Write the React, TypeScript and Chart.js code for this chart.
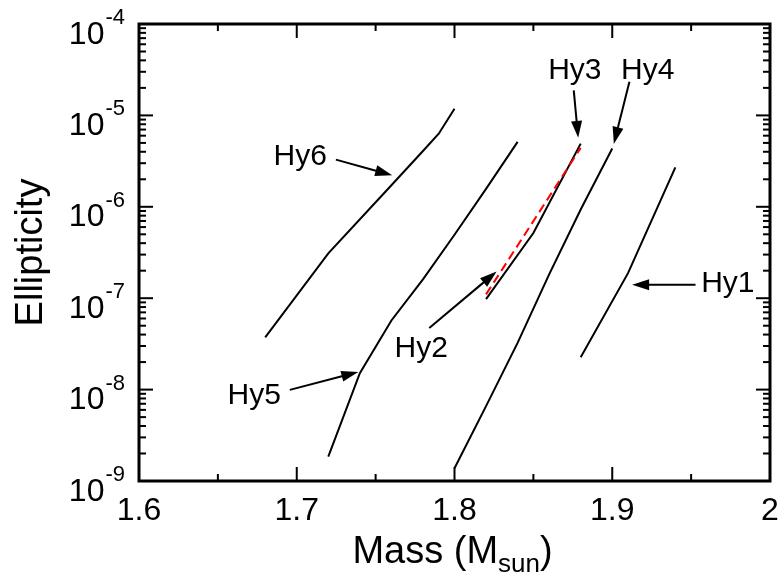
import React, { useEffect, useRef } from 'react';
import { Chart, registerables } from 'chart.js';

Chart.register(...registerables);

const FONT = '"Liberation Sans", Arial, Helvetica, sans-serif';

// ---- data ----
const hy1Mass = [1.88, 1.91, 1.94];
const hy1Ell = [2.26e-8, 1.88e-7, 2.7e-6];

const hy2Mass = [1.82, 1.88];
const hy2Ell = [1.1e-7, 4.41e-6];

const hy3Mass = [1.82, 1.85, 1.88];
const hy3Ell = [9.77e-8, 5.16e-7, 4.91e-6];

const hy4Mass = [1.8, 1.82, 1.84, 1.86, 1.88, 1.9];
const hy4Ell = [1.38e-9, 6.6e-9, 3.24e-8, 1.82e-7, 9.33e-7, 4.34e-6];

const hy5Mass = [1.72, 1.74, 1.76, 1.78, 1.8, 1.82, 1.84];
const hy5Ell = [1.85e-9, 1.51e-8, 5.7e-8, 1.61e-7, 4.94e-7, 1.57e-6, 5.13e-6];

const hy6Mass = [1.68, 1.72, 1.76, 1.78, 1.79, 1.8];
const hy6Ell = [3.72e-8, 3.09e-7, 1.72e-6, 4.08e-6, 6.31e-6, 1.18e-5];

// ---- axis ticks ----
const xMin = 1.6;
const xMax = 2.0;
const yMin = 1e-9;
const yMax = 1e-4;
const xTickValues = [1.6, 1.7, 1.8, 1.9, 2.0];
const xTickLabels = ['1.6', '1.7', '1.8', '1.9', '2'];
const xMinorValues = [1.65, 1.75, 1.85, 1.95];
const yDecadeExponents = [-9, -8, -7, -6, -5, -4];
const yMinorMantissas = [2, 3, 4, 5, 6, 7, 8, 9];

// ---- annotations (labels + arrows), in data coordinates ----
const annLabels = ['Hy1', 'Hy2', 'Hy3', 'Hy4', 'Hy5', 'Hy6'];
const annTextX = [1.9733, 1.7789, 1.8763, 1.9225, 1.673, 1.7022];
const annTextY = [1.17e-7, 2.3e-8, 2.51e-5, 2.53e-5, 6.97e-9, 2.89e-6];
const annTailX = [1.9528, 1.784, 1.8756, 1.9109, 1.6956, 1.7248];
const annTailY = [1.4e-7, 4.71e-8, 1.88e-5, 2.33e-5, 9.93e-9, 3.28e-6];
const annHeadX = [1.9126, 1.8267, 1.8784, 1.901, 1.739, 1.7605];
const annHeadY = [1.4e-7, 1.96e-7, 5.68e-6, 4.88e-6, 1.56e-8, 2.22e-6];

function series(xs: number[], ys: number[]) {
  return xs.map((x, i) => ({ x, y: ys[i] }));
}

const framePlugin = {
  id: 'framePlugin',
  afterDatasetsDraw(chart: any) {
    const ctx = chart.ctx as CanvasRenderingContext2D;
    const xs = chart.scales.x;
    const ys = chart.scales.y;
    const { left, right, top, bottom } = chart.chartArea;
    ctx.save();
    ctx.strokeStyle = '#000';
    ctx.fillStyle = '#000';

    // frame
    ctx.lineWidth = 3;
    ctx.strokeRect(left, top, right - left, bottom - top);

    // ticks
    ctx.lineWidth = 2;
    const major = 14;
    const minor = 7;
    const line = (x1: number, y1: number, x2: number, y2: number) => {
      ctx.beginPath();
      ctx.moveTo(x1, y1);
      ctx.lineTo(x2, y2);
      ctx.stroke();
    };
    xTickValues.forEach((v) => {
      const px = xs.getPixelForValue(v);
      line(px, bottom, px, bottom - major);
      line(px, top, px, top + major);
    });
    xMinorValues.forEach((v) => {
      const px = xs.getPixelForValue(v);
      line(px, bottom, px, bottom - minor);
      line(px, top, px, top + minor);
    });
    yDecadeExponents.forEach((e) => {
      const py = ys.getPixelForValue(Math.pow(10, e));
      line(left, py, left + major, py);
      line(right, py, right - major, py);
      if (e < -4) {
        yMinorMantissas.forEach((m) => {
          const pm = ys.getPixelForValue(m * Math.pow(10, e));
          line(left, pm, left + minor, pm);
          line(right, pm, right - minor, pm);
        });
      }
    });

    // x tick labels
    ctx.font = `32px ${FONT}`;
    ctx.textAlign = 'center';
    ctx.textBaseline = 'alphabetic';
    xTickValues.forEach((v, i) => {
      const px = xs.getPixelForValue(v);
      ctx.fillText(xTickLabels[i], px, bottom + 39);
    });

    // y tick labels: 10^e
    yDecadeExponents.forEach((e) => {
      const py = ys.getPixelForValue(Math.pow(10, e));
      const sup = String(e);
      ctx.font = `22px ${FONT}`;
      const ws = ctx.measureText(sup).width;
      const supLeft = left - 14 - ws;
      ctx.textAlign = 'left';
      ctx.fillText(sup, supLeft, py);
      ctx.font = `32px ${FONT}`;
      ctx.textAlign = 'right';
      ctx.fillText('10', supLeft - 1, py + 19.5);
    });

    // x title: Mass (M_sun)
    const mainFont = `38px ${FONT}`;
    const subFont = `26px ${FONT}`;
    ctx.textAlign = 'left';
    ctx.font = mainFont;
    const w1 = ctx.measureText('Mass (M').width;
    const w3 = ctx.measureText(')').width;
    ctx.font = subFont;
    const w2 = ctx.measureText('sun').width;
    const total = w1 + w2 + w3;
    let tx = (left + right) / 2 - total / 2 - 2;
    const tb = 563;
    ctx.font = mainFont;
    ctx.fillText('Mass (M', tx, tb);
    tx += w1;
    ctx.font = subFont;
    ctx.fillText('sun', tx, tb + 9);
    tx += w2;
    ctx.font = mainFont;
    ctx.fillText(')', tx, tb);

    // y title
    ctx.save();
    ctx.translate(42, (top + bottom) / 2);
    ctx.rotate(-Math.PI / 2);
    ctx.textAlign = 'center';
    ctx.font = mainFont;
    ctx.fillText('Ellipticity', 0, 0);
    ctx.restore();

    // annotations
    ctx.font = `30px ${FONT}`;
    ctx.textAlign = 'center';
    annLabels.forEach((lab, i) => {
      ctx.fillText(lab, xs.getPixelForValue(annTextX[i]), ys.getPixelForValue(annTextY[i]));
      const x1 = xs.getPixelForValue(annTailX[i]);
      const y1 = ys.getPixelForValue(annTailY[i]);
      const x2 = xs.getPixelForValue(annHeadX[i]);
      const y2 = ys.getPixelForValue(annHeadY[i]);
      const ang = Math.atan2(y2 - y1, x2 - x1);
      const hl = 17;
      const hw = 5.5;
      const bx = x2 - hl * Math.cos(ang);
      const by = y2 - hl * Math.sin(ang);
      ctx.lineWidth = 2;
      line(x1, y1, bx + 2 * Math.cos(ang), by + 2 * Math.sin(ang));
      ctx.beginPath();
      ctx.moveTo(x2, y2);
      ctx.lineTo(bx - hw * Math.sin(ang), by + hw * Math.cos(ang));
      ctx.lineTo(bx + hw * Math.sin(ang), by - hw * Math.cos(ang));
      ctx.closePath();
      ctx.fill();
    });

    ctx.restore();
  },
};

export default function App() {
  const canvasRef = useRef<HTMLCanvasElement | null>(null);

  useEffect(() => {
    document.body.style.margin = '0';
    const canvas = canvasRef.current;
    if (!canvas) return;
    const black = (label: string, xs: number[], ys: number[]) => ({
      label,
      data: series(xs, ys),
      borderColor: '#000',
      borderWidth: 2,
      pointRadius: 0,
      tension: 0,
      fill: false,
      order: 1,
    });
    const chart = new Chart(canvas, {
      type: 'line',
      data: {
        datasets: [
          {
            label: 'Hy2',
            data: series(hy2Mass, hy2Ell),
            borderColor: '#ff0000',
            borderWidth: 2,
            borderDash: [9, 5],
            pointRadius: 0,
            tension: 0,
            fill: false,
            order: 0,
          },
          black('Hy1', hy1Mass, hy1Ell),
          black('Hy3', hy3Mass, hy3Ell),
          black('Hy4', hy4Mass, hy4Ell),
          black('Hy5', hy5Mass, hy5Ell),
          black('Hy6', hy6Mass, hy6Ell),
        ],
      },
      options: {
        animation: false,
        responsive: false,
        devicePixelRatio: 1,
        layout: { padding: { top: 24, right: 9, left: 0, bottom: 0 } },
        plugins: {
          legend: { display: false },
          tooltip: { enabled: false },
        },
        scales: {
          x: {
            type: 'linear',
            min: xMin,
            max: xMax,
            ticks: { display: false, stepSize: 0.1 },
            grid: { display: false, drawTicks: false },
            border: { display: false },
            afterFit: (s: any) => {
              s.height = 101;
            },
          },
          y: {
            type: 'logarithmic',
            min: yMin,
            max: yMax,
            ticks: { display: false },
            grid: { display: false, drawTicks: false },
            border: { display: false },
            afterFit: (s: any) => {
              s.width = 139;
            },
          },
        },
      } as any,
      plugins: [framePlugin],
    });
    return () => chart.destroy();
  }, []);

  return (
    <div style={{ position: 'absolute', left: 0, top: 0, width: 779, height: 582, background: '#fff' }}>
      <canvas ref={canvasRef} width={779} height={582} style={{ width: 779, height: 582, display: 'block' }} />
    </div>
  );
}
